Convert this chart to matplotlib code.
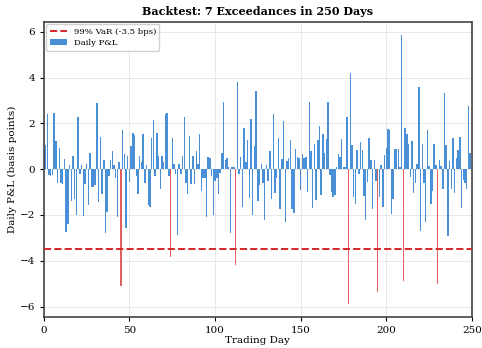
import matplotlib
matplotlib.use("Agg")
import matplotlib.pyplot as plt
import numpy as np

# Daily P&L in basis points (day 0 .. 249)
pnl = [
    0.9, 1.05, 2.4, -0.25, -0.3, -0.25, 2.45, 1.25, -0.6, 0.95,
    -0.6, -0.65, 0.45, -2.75, -2.4, 0.2, -1.4, 0.6, -1.3, -2.0,
    2.3, -0.2, 0.2, -2.05, -0.65, 0.25, -1.55, 0.7, -0.77, -0.77,
    -0.7, 2.9, -1.45, 1.4, -1.1, 0.4, -2.8, -1.85, -0.3, 0.4,
    0.8, 0.2, -0.4, -2.07, 0.3, -5.12, 1.7, 0.65, -2.55, 0.6,
    -0.55, 1.0, 1.6, 1.5, -0.3, -1.1, 0.6, 0.3, 1.55, -0.6,
    0.2, -1.55, -1.65, 1.35, 2.15, -0.3, 1.6, 0.6, -0.85, 0.6,
    0.3, 2.4, 2.45, -0.3, -3.84, 1.35, 0.25, -0.2, -2.87, 0.25,
    -0.2, 0.6, 2.3, -0.6, -1.1, 1.45, -0.65, 0.6, -0.65, 0.8,
    0.25, 1.55, -0.95, -0.4, -0.4, -2.07, 0.55, 0.5, -0.3, -2.0,
    -0.5, -0.4, -1.1, -0.15, 0.7, 2.95, 0.4, 0.5, 0.1, -2.8,
    0.1, 0.1, -4.17, 3.83, -0.2, 0.55, -1.65, 1.8, 0.3, 1.3,
    -1.25, 2.2, -2.0, 1.0, 3.4, -1.4, -0.7, 0.25, -0.6, -2.2,
    0.2, -0.5, 0.8, -1.28, 2.42, -1.05, -0.4, 1.35, -1.75, 0.45,
    2.1, -2.3, 0.35, 0.5, 1.3, -1.75, -1.9, 0.9, 0.55, 0.5,
    -0.9, 0.65, 0.5, 0.55, -1.0, 2.92, 0.8, -1.7, 1.1, -1.35,
    1.3, 1.87, -1.13, 1.55, 0.7, 1.33, 2.95, -0.25, -1.0, -1.2,
    -1.13, 0.1, 0.65, 0.55, 1.33, 0.1, 0.1, 2.28, -5.87, 4.2,
    1.05, -1.2, -1.5, 0.83, -0.2, 1.2, 0.83, -1.17, -2.2, -0.55,
    1.38, 0.42, -1.75, 0.4, -0.5, -5.36, -1.2, 0.2, -1.63, 0.64,
    0.95, 1.74, 1.7, -1.95, -1.3, 0.9, 0.9, 0.9, 0.1, 5.85,
    -4.87, 1.8, 1.55, 1.1, -0.35, 1.23, -1.05, -0.6, 0.25, 3.58,
    -2.7, 1.1, -0.6, -2.3, 1.72, 0.15, -1.5, -0.95, 1.12, 0.2,
    -5.0, 0.4, 0.15, -0.85, 3.33, 1.07, -2.9, 0.36, -0.87, 1.38,
    -1.05, 0.5, 0.85, 1.4, -1.7, -0.45, -0.6, -0.87, 2.78, 0.71,
]
var_level = -3.5
x_ticks = [0, 50, 100, 150, 200, 250]
y_ticks = [-6, -4, -2, 0, 2, 4, 6]

plt.rcParams['font.family'] = ['DejaVu Serif']

days = np.arange(len(pnl))
pnl = np.array(pnl)
breach = pnl < var_level

fig = plt.figure(figsize=(4.82, 3.48), dpi=100)
ax = fig.add_axes([0.091, 0.089, 0.888, 0.848])

# normal days blue, exceedances red
ax.bar(days[~breach], pnl[~breach], width=0.85, color='#4a90d9', label='Daily P&L', zorder=2)
ax.bar(days[breach], pnl[breach], width=0.85, color='#e06060', zorder=2)
ax.axhline(var_level, color='#d62728', linestyle='--', linewidth=1.4,
           label='99% VaR (-3.5 bps)', zorder=3)

ax.set_xlim(0, 250)
ax.set_ylim(-6.46, 6.44)
ax.set_xticks(x_ticks)
ax.set_yticks(y_ticks)
ax.tick_params(labelsize=7.5, length=3)
ax.grid(True, color='#cccccc', alpha=0.5, linewidth=0.6, zorder=0)
for s in ax.spines.values():
    s.set_color('#444444')
    s.set_linewidth(1.2)

ax.set_xlabel('Trading Day', fontsize=7.5, labelpad=1)
ax.set_ylabel('Daily P&L (basis points)', fontsize=7.5, labelpad=2)
ax.set_title('Backtest: 7 Exceedances in 250 Days', fontsize=8, fontweight='bold', pad=5)
ax.legend(loc='upper left', fontsize=6.1, framealpha=0.9, borderpad=0.4,
          handlelength=2.0, labelspacing=0.4, borderaxespad=0.3)

fig.savefig('out.png', dpi=100)
